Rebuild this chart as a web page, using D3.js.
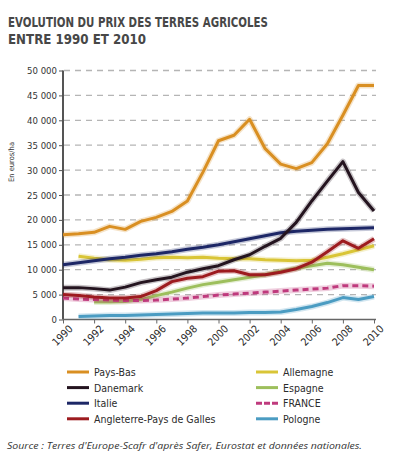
<!DOCTYPE html>
<html>
<head>
<meta charset="UTF-8">
<title>Evolution du prix des terres agricoles</title>
<script src="https://cdn.jsdelivr.net/npm/d3@7"></script>
<style>
  body { margin: 0; background: #ffffff; }
  svg { display: block; }
  .narrow { font-family: "DejaVu Sans Condensed", "Liberation Sans Narrow", sans-serif; }
</style>
</head>
<body>
<script>
// data (euros/ha)
var years = d3.range(1990, 2011);
var paysBas    = [17000,17200,17500,18700,18100,19700,20500,21700,23800,29600,35900,37000,40200,34300,31200,30300,31500,35300,41000,47000,47000];
var danemark   = [6400,6400,6200,5900,6500,7400,8000,8500,9500,10200,10800,12000,13000,14700,16300,19500,23800,27800,31700,25500,21800];
var italie     = [11000,11400,11800,12200,12500,12900,13200,13600,14100,14500,15000,15600,16200,16800,17400,17700,17900,18100,18200,18300,18400];
var angleterre = [5000,4800,4500,4300,4300,4600,5800,7600,8300,8600,9700,9800,9000,9000,9500,10200,11500,13600,15800,14300,16200];
var allemagne  = [null,12700,12300,12000,11900,12100,12400,12500,12400,12500,12300,12200,12200,12000,11900,11800,11900,12500,13200,14000,14800];
var espagne    = [null,null,3500,3500,3600,4000,4800,5500,6300,7000,7500,8000,8500,9000,9700,10300,10800,11300,11000,10500,10000];
var france     = [4300,4100,4000,3900,3800,3800,3900,4100,4300,4600,4900,5100,5300,5500,5700,5900,6100,6300,6800,6800,6700];
var pologne    = [null,600,700,800,800,900,1000,1100,1200,1300,1300,1300,1400,1400,1500,2000,2600,3400,4400,4000,4600];

var seriesNames = ["Pays-Bas","Danemark","Italie","Angleterre-Pays de Galles","Allemagne","Espagne","FRANCE","Pologne"];
var seriesValues = [paysBas, danemark, italie, angleterre, allemagne, espagne, france, pologne];
var yTicks = [0,5000,10000,15000,20000,25000,30000,35000,40000,45000,50000];
var xTicks = [1990,1992,1994,1996,1998,2000,2002,2004,2006,2008,2010];

// styles
var colors = {
  "Pays-Bas": "#d98f22",
  "Danemark": "#24141f",
  "Italie": "#1d2766",
  "Angleterre-Pays de Galles": "#9d1b1f",
  "Allemagne": "#d9c537",
  "Espagne": "#9dbf5c",
  "FRANCE": "#bf3a7d",
  "Pologne": "#4b9cc2"
};
var drawOrder = ["Pologne","Espagne","FRANCE","Allemagne","Angleterre-Pays de Galles","Italie","Danemark","Pays-Bas"];

var W = 397, H = 474;
var svg = d3.select("body").append("svg").attr("width", W).attr("height", H);

var x = d3.scaleLinear().domain([1990, 2010]).range([63, 374]);
var y = d3.scaleLinear().domain([0, 50000]).range([319.5, 70.5]);

// title
var title = svg.append("g").attr("class", "narrow").style("font-weight", "bold").attr("fill", "#474747");
title.append("text").attr("x", 8).attr("y", 27).attr("font-size", 13.5)
  .attr("textLength", 260).attr("lengthAdjust", "spacingAndGlyphs")
  .text("EVOLUTION DU PRIX DES TERRES AGRICOLES");
title.append("text").attr("x", 8).attr("y", 44).attr("font-size", 13.5)
  .attr("textLength", 138).attr("lengthAdjust", "spacingAndGlyphs")
  .text("ENTRE 1990 ET 2010");

// grid
svg.append("g").selectAll("line").data(yTicks.filter(function (d) { return d > 0; })).enter().append("line")
  .attr("x1", 64).attr("x2", 376)
  .attr("y1", function (d) { return y(d); }).attr("y2", function (d) { return y(d); })
  .attr("stroke", "#b5b5b5").attr("stroke-width", 1.3).attr("stroke-dasharray", "6,5");

// y axis
var yAxis = svg.append("g").attr("transform", "translate(63,0)")
  .call(d3.axisLeft(y).tickValues(yTicks).tickSize(4).tickPadding(2)
    .tickFormat(function (d) { return d === 0 ? "0" : d3.format(",")(d).replace(",", " "); }));
yAxis.select(".domain").attr("stroke", "#555").attr("stroke-width", 2).attr("d", "M0," + y(50000) + "V" + y(0));
yAxis.selectAll(".tick line").attr("stroke", "#555");
yAxis.selectAll("text").attr("class", "narrow").attr("font-size", 9.5).attr("fill", "#333");

svg.append("text").attr("class", "narrow").attr("font-size", 7.5).attr("fill", "#333")
  .attr("text-anchor", "middle")
  .attr("transform", "translate(14,162) rotate(-90)")
  .text("En euros/ha");

// x axis
var xAxis = svg.append("g").attr("transform", "translate(0," + y(0) + ")")
  .call(d3.axisBottom(x).tickValues(xTicks).tickSize(4).tickFormat(d3.format("d")));
xAxis.select(".domain").attr("stroke", "#666").attr("stroke-width", 1.5).attr("d", "M63,0H376");
xAxis.selectAll(".tick line").attr("stroke", "#666");
xAxis.selectAll("text").attr("class", "narrow").attr("font-size", 10.5).attr("fill", "#2b2b2b")
  .attr("text-anchor", "end").attr("dy", null).attr("y", null)
  .attr("transform", "translate(10,10) rotate(-45)");

// lines
var line = d3.line()
  .defined(function (d) { return d.v !== null; })
  .x(function (d) { return x(d.year); })
  .y(function (d) { return y(d.v); });

var lines = svg.append("g");
drawOrder.forEach(function (name) {
  var vals = seriesValues[seriesNames.indexOf(name)];
  var pts = years.map(function (yr, i) { return { year: yr, v: vals[i] }; });
  lines.append("path").datum(pts).attr("d", line).attr("fill", "none")
    .attr("stroke", colors[name]).attr("stroke-opacity", 0.25).attr("stroke-width", 6)
    .attr("stroke-linejoin", "round");
  lines.append("path").datum(pts).attr("d", line).attr("fill", "none")
    .attr("stroke", colors[name]).attr("stroke-width", 3)
    .attr("stroke-linejoin", "round")
    .attr("stroke-dasharray", name === "FRANCE" ? "6,4" : null);
});

// legend
var legendPos = seriesNames.map(function (d, i) {
  var col = i < 4 ? 0 : 1, row = i % 4;
  return { name: d, sx: col === 0 ? 67 : 256, tx: col === 0 ? 94 : 283, cy: 372 + row * 15.6 };
});
var legend = svg.append("g").attr("class", "narrow");
legend.selectAll("line").data(legendPos).enter().append("line")
  .attr("x1", function (d) { return d.sx; }).attr("x2", function (d) { return d.sx + 22; })
  .attr("y1", function (d) { return d.cy; }).attr("y2", function (d) { return d.cy; })
  .attr("stroke", function (d) { return colors[d.name]; }).attr("stroke-width", 3)
  .attr("stroke-dasharray", function (d) { return d.name === "FRANCE" ? "6,2" : null; });
legend.selectAll("text").data(legendPos).enter().append("text")
  .attr("x", function (d) { return d.tx; }).attr("y", function (d) { return d.cy + 4; })
  .attr("font-size", 10.5).attr("fill", "#2b2b2b")
  .text(function (d) { return d.name; });

// source
svg.append("text").attr("x", 7).attr("y", 449)
  .attr("font-family", "'Open Sans', 'DejaVu Sans', sans-serif").attr("font-style", "italic")
  .attr("font-size", 8.5).attr("fill", "#333")
  .attr("textLength", 355).attr("lengthAdjust", "spacingAndGlyphs")
  .text("Source : Terres d'Europe-Scafr d'après Safer, Eurostat et données nationales.");
</script>
</body>
</html>
